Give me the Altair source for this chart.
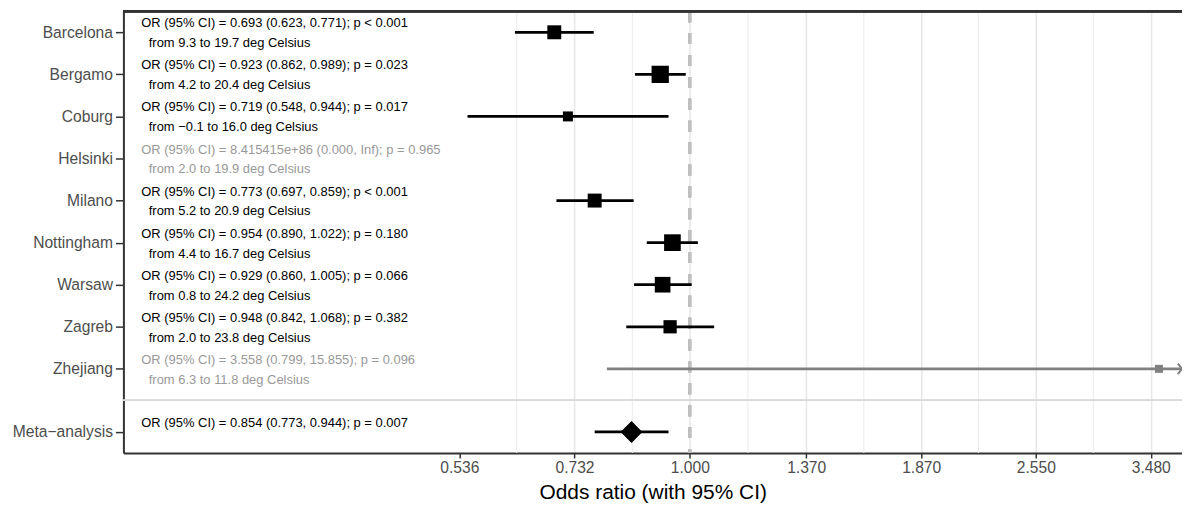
import math
import altair as alt
import pandas as pd

# ---------------- data ----------------
cities = ["Barcelona", "Bergamo", "Coburg", "Helsinki", "Milano",
          "Nottingham", "Warsaw", "Zagreb", "Zhejiang"]
odds_ratio = [0.693, 0.923, 0.719, 8.415415e86, 0.773, 0.954, 0.929, 0.948, 3.558]
ci_low = [0.623, 0.862, 0.548, 0.000, 0.697, 0.890, 0.860, 0.842, 0.799]
ci_high = [0.771, 0.989, 0.944, math.inf, 0.859, 1.022, 1.005, 1.068, 15.855]
p_text = ["< 0.001", "= 0.023", "= 0.017", "= 0.965", "< 0.001",
          "= 0.180", "= 0.066", "= 0.382", "= 0.096"]
temp_from = [9.3, 4.2, -0.1, 2.0, 5.2, 4.4, 0.8, 2.0, 6.3]
temp_to = [19.7, 20.4, 16.0, 19.9, 20.9, 16.7, 24.2, 23.8, 11.8]
weight = [13.1, 20.1, 6.7, 0.0, 13.1, 18.7, 16.5, 11.8, 4.3]
included = [True, True, True, False, True, True, True, True, False]

meta_name = "Meta\u2212analysis"
meta_or, meta_low, meta_high, meta_p = 0.854, 0.773, 0.944, "= 0.007"

tick_values = [0.536, 0.732, 1.000, 1.370, 1.870, 2.550, 3.480]
minor_breaks = [0.626, 0.856, 1.170, 1.601, 2.184, 2.979]
x_domain = [0.216, 3.787]
meta_row = 9.5
separator_row = 8.75

# ---------------- table ----------------
def fmt(v):
    if math.isinf(v):
        return "Inf"
    if v > 1e6:
        return f"{v:e}"
    return f"{v:.3f}"

def fmt_t(v):
    return f"{v:.1f}".replace("-", "\u2212")

records = []
for i, c in enumerate(cities):
    records.append({
        "name": c, "row": i,
        "est": odds_ratio[i] if odds_ratio[i] < 1e6 else None,
        "lo": ci_low[i],
        "hi": None if math.isinf(ci_high[i]) else ci_high[i],
        "weight": weight[i], "included": included[i],
        "line1": f"OR (95% CI) = {fmt(odds_ratio[i])} ({fmt(ci_low[i])}, {fmt(ci_high[i])}); p {p_text[i]}",
        "line2": f"from {fmt_t(temp_from[i])} to {fmt_t(temp_to[i])} deg Celsius",
    })
studies = pd.DataFrame(records)
meta = pd.DataFrame([{
    "name": meta_name, "row": meta_row, "est": meta_or, "lo": meta_low,
    "hi": meta_high, "included": True,
    "line1": f"OR (95% CI) = {fmt(meta_or)} ({fmt(meta_low)}, {fmt(meta_high)}); p {meta_p}",
    "line2": "",
}])
alltext = pd.concat([studies, meta], ignore_index=True)
minor_df = pd.DataFrame({"v": minor_breaks})

FONT = "Liberation Sans, Arial, Helvetica, sans-serif"
W, H = 1064, 444

names_js = "[" + ",".join("'" + n + "'" for n in cities) + "]"
y_label_expr = f"datum.value == {meta_row} ? '{meta_name}' : {names_js}[datum.value]"

xscale = alt.Scale(type="log", domain=x_domain, nice=False, zero=False)
yscale = alt.Scale(domain=[-0.5, 10], reverse=True, nice=False, zero=False)

x_axis = alt.Axis(
    values=tick_values, labelExpr="format(datum.value, '.3f')",
    title="Odds ratio (with 95% CI)", titleFontSize=21, titleFontWeight="normal",
    titleColor="black", titleFont=FONT, titleY=46, titleBaseline="alphabetic",
    labelFontSize=15.7, labelColor="#4d4d4d", labelFont=FONT, labelPadding=3,
    labelFlush=False, labelOverlap=False,
    tickSize=5, tickColor="#333333", tickWidth=1.5,
    domainColor="#333333", domainWidth=2,
    grid=True, gridColor="#e8e8e8", gridWidth=1.6,
    gridOpacity={"condition": {"test": "datum.value < 0.6", "value": 0}, "value": 1},
)
y_axis = alt.Axis(
    values=list(range(len(cities))) + [meta_row], labelExpr=y_label_expr,
    title=None, labelFontSize=15.7, labelColor="#4d4d4d", labelFont=FONT,
    labelPadding=3, tickSize=8, tickColor="#333333", tickWidth=1.5,
    domainColor="#333333", domainWidth=2, grid=False, labelOverlap=False,
)

X = lambda f: alt.X(f, scale=xscale, axis=x_axis)
Y = lambda f: alt.Y(f, scale=yscale, axis=y_axis)

minor = alt.Chart(minor_df).mark_rule(color="#ededed", strokeWidth=1.1).encode(
    x=X("v:Q"))

separator = alt.Chart(studies).mark_rule(color="#d9d9d9", strokeWidth=1.3).encode(
    y=alt.datum(separator_row, scale=yscale, axis=y_axis))

null_line = alt.Chart(studies).mark_rule(
    color="#bfbfbf", strokeWidth=2.6, strokeDash=[11, 11]).encode(
    x=alt.datum(1.0, scale=xscale, axis=x_axis))

top_border = alt.Chart(studies).mark_rule(color="#333333", strokeWidth=2).encode(
    y=alt.value(0), x=alt.value(0), x2=alt.value(W))

mark_color = alt.condition("datum.included", alt.value("black"), alt.value("#808080"))
text_color = alt.condition("datum.included", alt.value("black"), alt.value("#999999"))

drawable = studies_chart = alt.Chart(studies).transform_filter(
    "datum.lo > 0 && isValid(datum.hi) && isValid(datum.est)")

whiskers = drawable.mark_rule(strokeWidth=2.7, clip=True).encode(
    x=X("lo:Q"), x2="hi:Q", y=Y("row:Q"), color=mark_color)

squares = drawable.mark_point(shape="square", filled=True, opacity=1, strokeWidth=0).encode(
    x=X("est:Q"), y=Y("row:Q"), color=mark_color,
    size=alt.Size("weight:Q", scale=alt.Scale(domain=[0, 20], range=[0, 300]), legend=None))

arrows = drawable.transform_filter(f"datum.hi > {x_domain[1]}").transform_calculate(
    xa=str(x_domain[1])).mark_point(
    shape="M-0.8,-1L0,0L-0.8,1", filled=False, size=110, strokeWidth=2,
    color="#808080", opacity=1).encode(x=X("xa:Q"), y=Y("row:Q"))

meta_whisker = alt.Chart(meta).mark_rule(strokeWidth=2.7, color="black").encode(
    x=X("lo:Q"), x2="hi:Q", y=Y("row:Q"))
meta_diamond = alt.Chart(meta).mark_point(
    shape="diamond", filled=True, size=484, color="black", opacity=1).encode(
    x=X("est:Q"), y=Y("row:Q"))

text1 = alt.Chart(alltext).mark_text(
    align="left", baseline="middle", dy=-9, fontSize=13, font=FONT).encode(
    x=alt.value(18), y=Y("row:Q"), text="line1:N", color=text_color)
text2 = alt.Chart(alltext).mark_text(
    align="left", baseline="middle", dx=7.5, dy=11, fontSize=13, font=FONT).encode(
    x=alt.value(18), y=Y("row:Q"), text="line2:N", color=text_color)

chart = alt.layer(
    minor, null_line, separator, whiskers, squares, arrows,
    meta_whisker, meta_diamond, text1, text2, top_border
).properties(
    width=W, height=H,
    padding={"left": 116, "top": 2, "right": 0, "bottom": 51},
    autosize=alt.AutoSizeParams(type="none"),
    background="white",
).configure_view(stroke=None)

chart.save("out.html", embed_options={"renderer": "svg", "actions": False})
